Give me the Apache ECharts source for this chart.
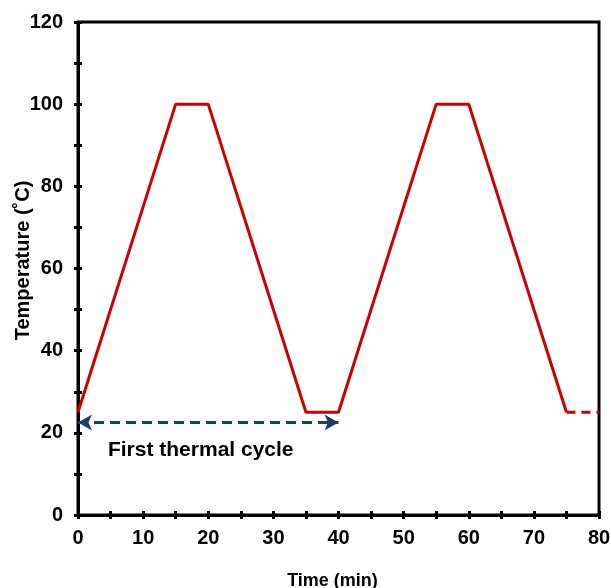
<!DOCTYPE html>
<html>
<head>
<meta charset="utf-8">
<script src="https://cdn.jsdelivr.net/npm/echarts@6/dist/echarts.min.js"></script>
<style>html,body{margin:0;padding:0;background:#fff}#c{width:611px;height:588px}</style>
</head>
<body>
<div id="c"></div>
<script>
// Data
const timeSolid = [0, 15, 20, 35, 40, 55, 60, 75];
const tempSolid = [25, 100, 100, 25, 25, 100, 100, 25];
const timeDashed = [75, 80];
const tempDashed = [25, 25];
const arrowStart = [0, 22.5];
const arrowEnd = [40, 22.5];
const noteText = 'First thermal cycle';
const notePos = [4.6, 15.8];
const xTitle = 'Time (min)';
const yTitle = 'Temperature (˚C)';

const font = 'Arial, "Liberation Sans", sans-serif';
const chart = echarts.init(document.getElementById('c'));
const grid = {left: 78, right: 12, top: 22, bottom: 73, outerBoundsMode: 'none', containLabel: false,
  show: true, borderColor: '#000', borderWidth: 3, backgroundColor: 'transparent'};
const axisBase = {
  type: 'value', splitLine: {show: false}, nameMoveOverlap: false,
  axisLine: {show: true, onZero: false, lineStyle: {color: '#000', width: 3}}
};
chart.setOption({
  animation: false,
  grid: grid,
  xAxis: [
    Object.assign({}, axisBase, {
      min: 0, max: 80, interval: 5, position: 'bottom',
      axisTick: {show: true, inside: false, length: 4, lineStyle: {color: '#000', width: 3}},
      axisLabel: {color: '#000', fontWeight: 'bold', fontSize: 20, fontFamily: font, margin: 13,
        formatter: v => (v % 10 === 0 ? String(v) : '')},
      name: xTitle, nameLocation: 'middle', nameGap: 57,
      nameTextStyle: {color: '#000', fontWeight: 'bold', fontSize: 18, fontFamily: font, padding: [0, 12, 0, 0]}
    }),
    Object.assign({}, axisBase, {
      min: 0, max: 80, interval: 5, position: 'bottom',
      axisLine: {show: false}, axisLabel: {show: false},
      axisTick: {show: true, inside: true, length: 4, lineStyle: {color: '#000', width: 3}}
    })
  ],
  yAxis: [
    Object.assign({}, axisBase, {
      min: 0, max: 120, interval: 10, position: 'left',
      axisTick: {show: true, inside: false, length: 4, lineStyle: {color: '#000', width: 3}},
      axisLabel: {color: '#000', fontWeight: 'bold', fontSize: 20, fontFamily: font, margin: 15,
        formatter: v => (v % 20 === 0 ? String(v) : '')},
      name: yTitle, nameLocation: 'middle', nameGap: 45, nameRotate: 90,
      nameTextStyle: {color: '#000', fontWeight: 'bold', fontSize: 20, fontFamily: font, padding: [0, 0, 0, 16]}
    }),
    Object.assign({}, axisBase, {
      min: 0, max: 120, interval: 10, position: 'left',
      axisLine: {show: false}, axisLabel: {show: false},
      axisTick: {show: true, inside: true, length: 4, lineStyle: {color: '#000', width: 3}}
    })
  ],
  series: [
    {
      type: 'line', xAxisIndex: 0, yAxisIndex: 0, symbol: 'none',
      data: timeSolid.map((t, i) => [t, tempSolid[i]]),
      lineStyle: {color: '#cc0000', width: 3},
      markLine: {
        silent: true, symbol: ['arrow', 'arrow'], symbolSize: [12, 14],
        label: {show: false},
        lineStyle: {color: '#1f3a75', width: 3, type: [10, 6]},
        data: [[{coord: arrowStart}, {coord: arrowEnd}]]
      },
      markPoint: {
        silent: true, symbol: 'circle', symbolSize: 0,
        label: {show: true, position: 'right', distance: 0, formatter: noteText,
          color: '#000', fontWeight: 'bold', fontSize: 21, fontFamily: font},
        data: [{coord: notePos}]
      }
    },
    {
      type: 'line', xAxisIndex: 0, yAxisIndex: 0, symbol: 'none',
      data: timeDashed.map((t, i) => [t, tempDashed[i]]),
      lineStyle: {color: '#cc0000', width: 3, type: [9, 6]}
    }
  ]
});
</script>
</body>
</html>
